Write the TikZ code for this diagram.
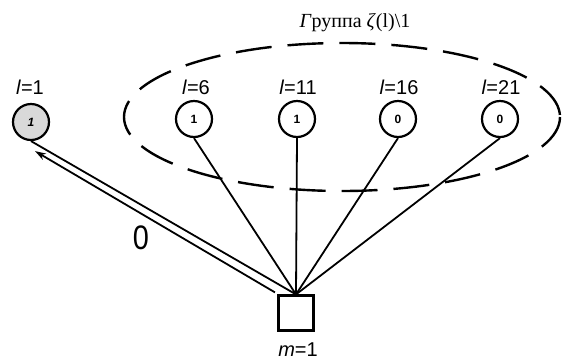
\documentclass[tikz,border=0pt]{standalone}
\usepackage{fontspec}
\setmainfont{Liberation Serif}
\newfontfamily\labfont{Liberation Sans}
\usetikzlibrary{arrows.meta,calc}
\tikzset{
  vert/.style={circle,draw,line width=2.2pt,minimum size=36pt,inner sep=0pt,font=\labfont\bfseries\fontsize{12}{12}\selectfont},
  vlab/.style={font=\labfont\fontsize{20}{20}\selectfont,inner sep=0pt},
  edge/.style={line width=1.8pt},
  grp/.style={line width=2.4pt,dash pattern=on 36pt off 16pt},
}
\begin{document}
\begin{tikzpicture}[x=1pt,y=-1pt]
\useasboundingbox (0,0) rectangle (562,360);
% group ellipse
\draw[grp] (342,117) ellipse [x radius=218, y radius=74];
\node[font=\fontsize{20}{20}\selectfont,inner sep=0pt] (glab) at (355,23) {\textit{Г}руппа \textit{ζ}(l)\textbackslash 1};
% vertices
\node[vert,fill=gray!30] (l1) at (31,122) {\itshape 1};
\node[vert] (l6) at (194,119) {1};
\node[vert] (l11) at (297,119) {1};
\node[vert] (l16) at (398,119) {0};
\node[vert] (l21) at (500,119) {0};
\node[vlab] (t1) at (30,87) {\textit{l}=1};
\node[vlab] (t6) at (196,87) {\textit{l}=6};
\node[vlab] (t11) at (298,87) {\textit{l}=11};
\node[vlab] (t16) at (399,87) {\textit{l}=16};
\node[vlab] (t21) at (501,87) {\textit{l}=21};
% square
\node[draw,line width=2.2pt,minimum size=35pt,inner sep=0pt] (sq) at (296,313) {};
\node[vlab] (mlab) at (298,350) {\textit{m}=1};
% connectors
\foreach \v in {l1,l6,l11,l16,l21}
  \draw[edge] (\v.south) -- (sq.north);
\draw[edge,-{Stealth[length=11pt,width=7pt]}] ($(sq.north)+(-21,-2)$) -- ($(l1.south)+(4,10)$);
\node[font=\labfont\fontsize{34}{34}\selectfont,inner sep=0pt,xscale=0.85] (zero) at (141,238) {0};
\end{tikzpicture}
\end{document}
